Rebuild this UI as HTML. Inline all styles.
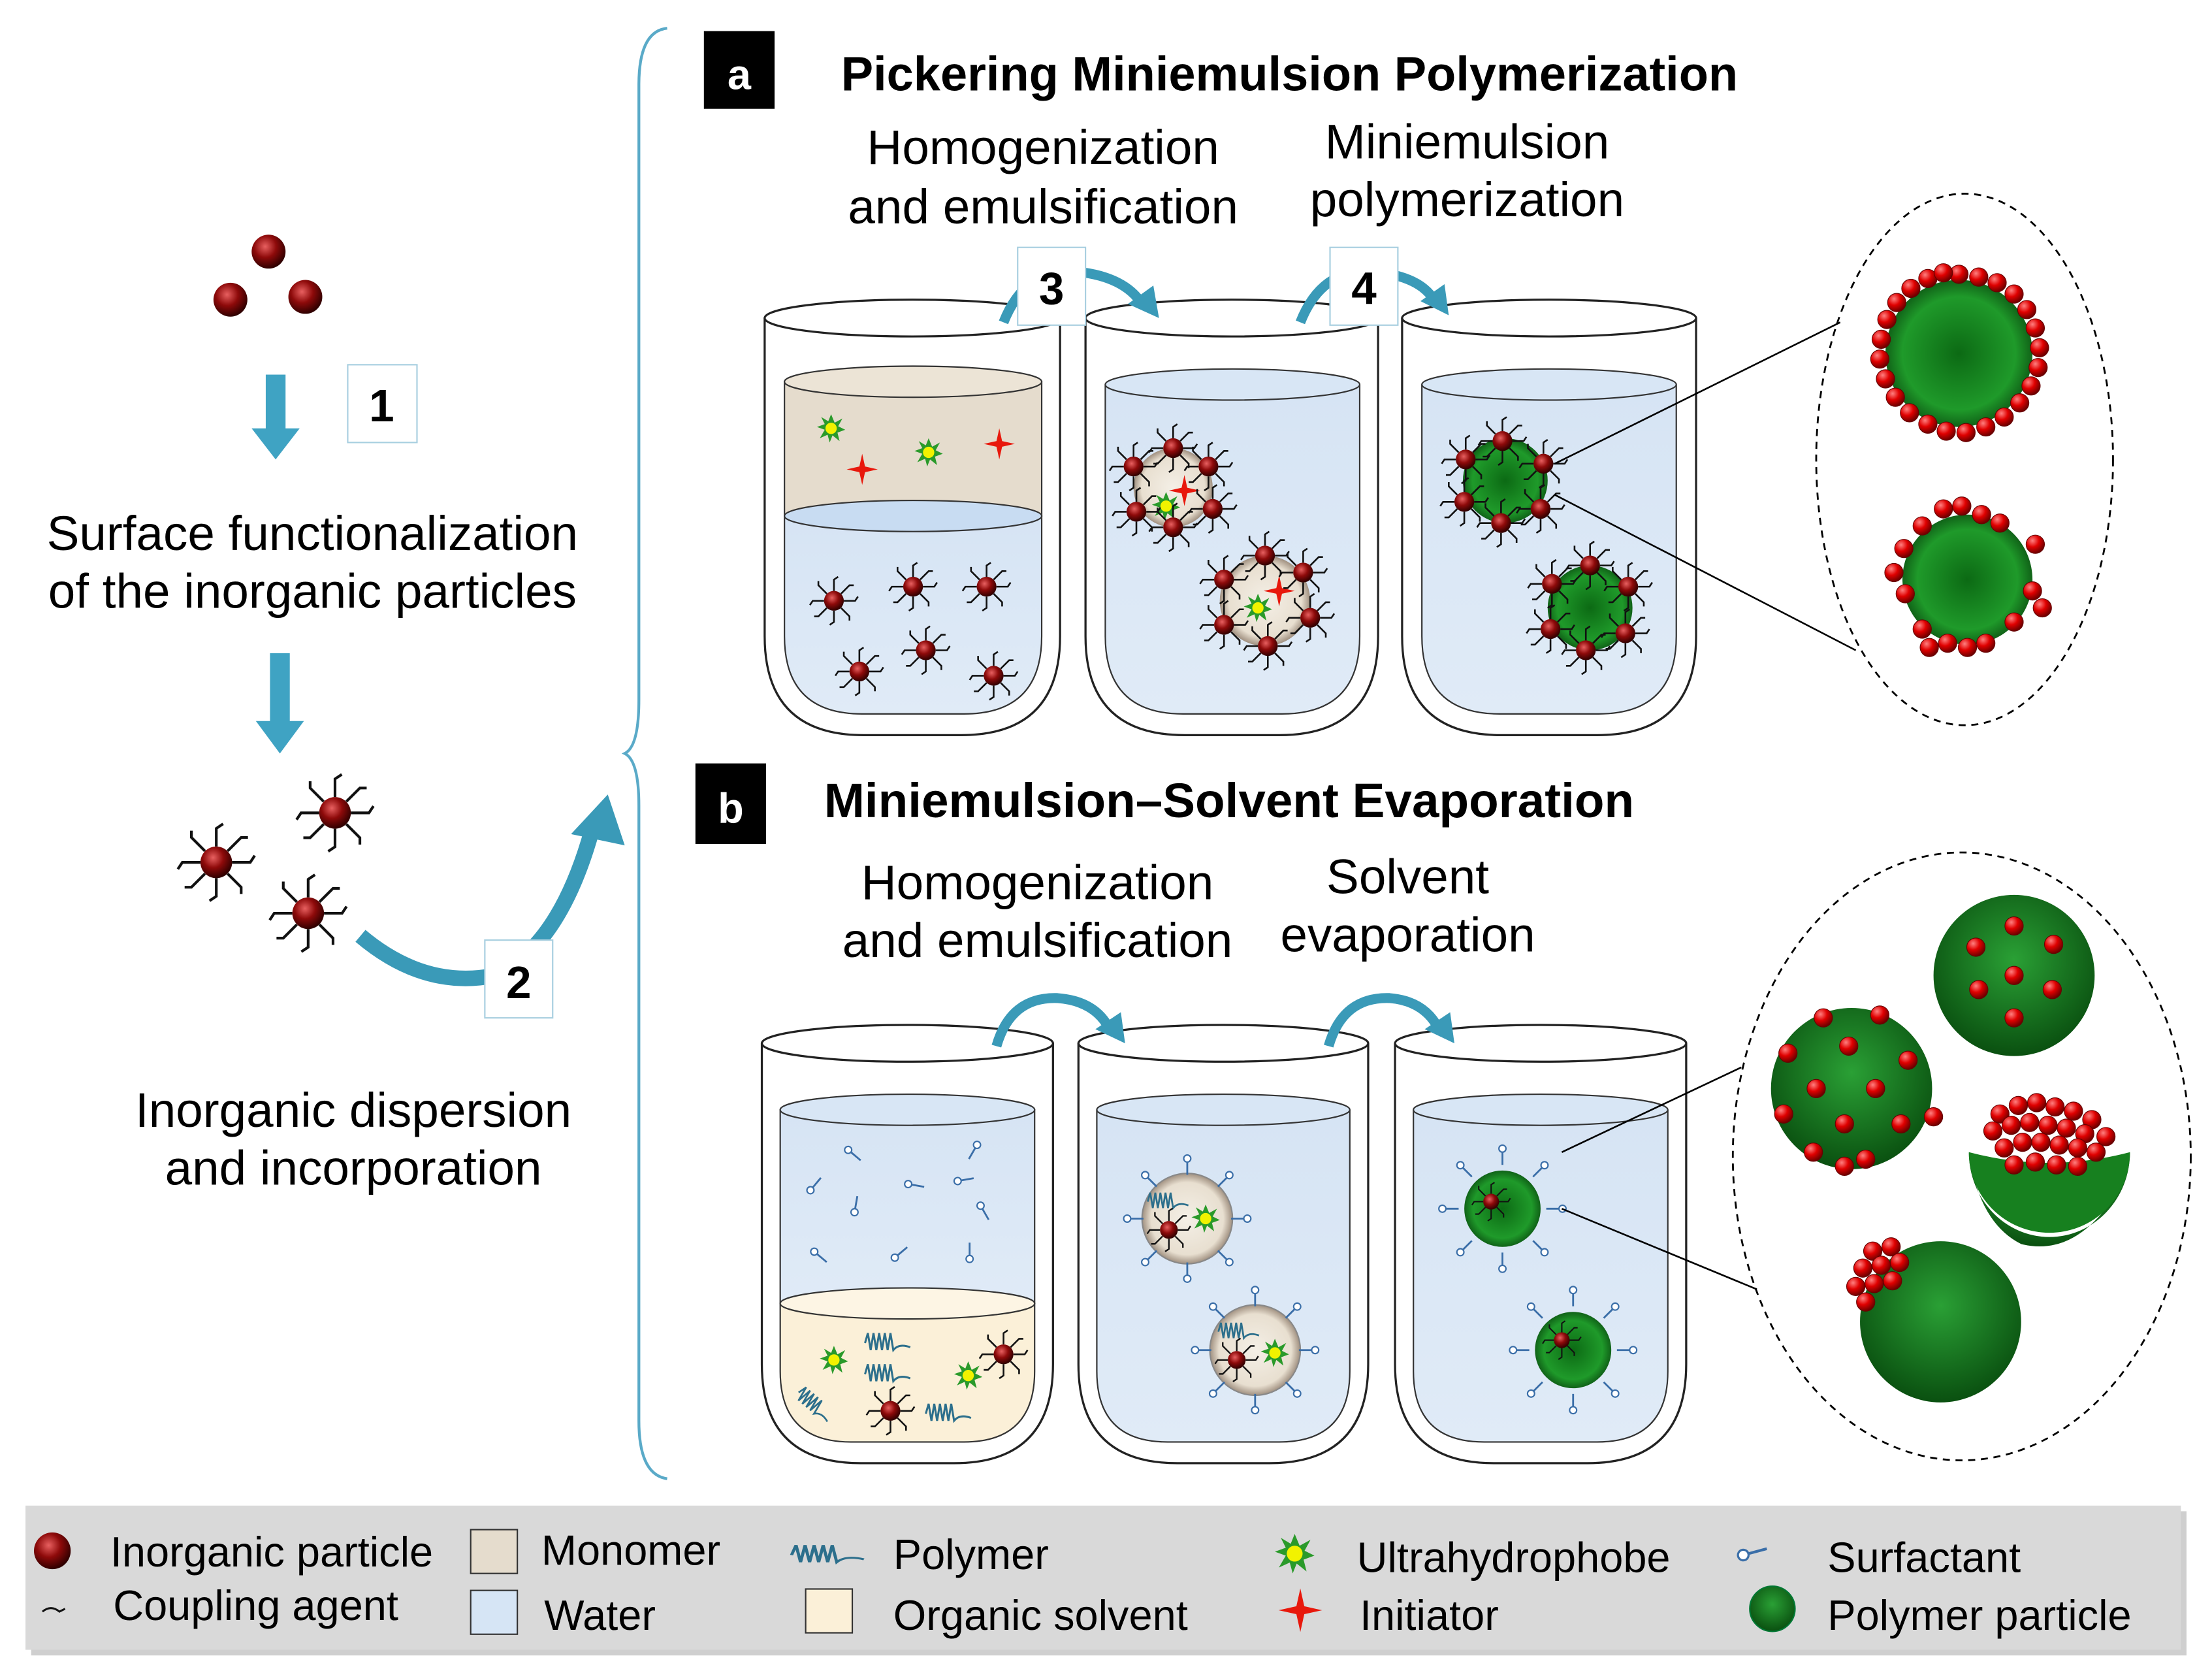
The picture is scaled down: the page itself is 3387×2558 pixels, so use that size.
<!DOCTYPE html>
<html><head><meta charset="utf-8"><style>
html,body{margin:0;padding:0;background:#fff}
svg{display:block}
text{font-family:"Liberation Sans",sans-serif;fill:#000}
</style></head><body>
<svg width="3387" height="2558" viewBox="0 0 1565 1182" xmlns="http://www.w3.org/2000/svg" xmlns:xlink="http://www.w3.org/1999/xlink">
<defs>
<radialGradient id="rb" cx="40%" cy="35%" r="65%"><stop offset="0" stop-color="#e86060"/><stop offset="0.5" stop-color="#8e0a0a"/><stop offset="1" stop-color="#300000"/></radialGradient>
<radialGradient id="rd" cx="35%" cy="30%" r="70%"><stop offset="0" stop-color="#ff8080"/><stop offset="0.5" stop-color="#e00000"/><stop offset="1" stop-color="#700000"/></radialGradient>
<radialGradient id="gr" cx="50%" cy="50%" r="55%"><stop offset="0" stop-color="#0c6a14"/><stop offset="0.7" stop-color="#1f9a2a"/><stop offset="1" stop-color="#0a4a10"/></radialGradient>
<radialGradient id="gr2" cx="50%" cy="40%" r="60%"><stop offset="0" stop-color="#2aa035"/><stop offset="1" stop-color="#0a5010"/></radialGradient>
<linearGradient id="wat" x1="0" y1="0" x2="0" y2="1"><stop offset="0" stop-color="#d6e4f4"/><stop offset="1" stop-color="#e0ebf7"/></linearGradient>
<radialGradient id="drop" cx="50%" cy="50%" r="50%"><stop offset="0" stop-color="#f4efe6"/><stop offset="0.8" stop-color="#e8dfd0"/><stop offset="1" stop-color="#a09080"/></radialGradient>
<g id="hp"><g stroke="#111" stroke-width="1.2" fill="none">
<path d="M0,-7 L0,-15 l3,-2"/><path d="M0,7 L0,15 l-3,2"/><path d="M-7,0 L-15,0 l-2,3"/><path d="M7,0 L15,0 l2,-3"/>
<path d="M5,-5 L11,-11 l3,0"/><path d="M-5,5 L-11,11 l-3,0"/><path d="M-5,-5 L-11,-11 l0,-3"/><path d="M5,5 L11,11 l0,3"/></g>
<circle r="7" fill="url(#rb)"/></g>
<g id="sf"><line x1="0" y1="0" x2="9" y2="0" stroke="#3a6ea8" stroke-width="1.3"/><circle cx="-2.5" cy="0" r="2.5" fill="#fff" stroke="#3a6ea8" stroke-width="1"/></g>
<g id="uh"><polygon points="0,-10 2.5,-4 8,-7 5,-1.5 10,1 4.5,3 6,9 1,5 -1,10 -2.5,4.5 -8,7 -4.5,1 -10,-1 -4.5,-3 -7,-8 -2,-5" fill="#2a9a2a"/><circle r="4" fill="#f2f200"/></g>
<g id="in"><path d="M0,-11 L2,-2 L11,0 L2,2 L0,11 L-2,2 L-11,0 L-2,-2 Z" fill="#e8180c"/></g>
<g id="pl"><path d="M0,0 l2,-7 l2,12 l2,-12 l2,12 l2,-12 l2,12 l2,-12 l2,12 l2,-12 l2,12 q4,-5 12,-2" stroke="#2c6f8c" stroke-width="1.4" fill="none"/></g>
<g id="rdot"><circle r="6.5" fill="url(#rd)" stroke="#600" stroke-width="0.5"/></g>
</defs>

<!-- LEFT column -->
<circle cx="190" cy="178" r="12" fill="url(#rb)"/>
<circle cx="163" cy="212" r="12" fill="url(#rb)"/>
<circle cx="216" cy="210" r="12" fill="url(#rb)"/>
<path d="M188,265 h14 v38 h10 l-17,22 l-17,-22 h10 Z" fill="#3fa3c3"/>
<rect x="246" y="258" width="49" height="55" fill="#fff" stroke="#a8cfe0" stroke-width="1"/>
<text x="270" y="298" font-size="32" font-weight="bold" text-anchor="middle">1</text>
<text x="221" y="389" font-size="34.5" text-anchor="middle">Surface functionalization</text>
<text x="221" y="430" font-size="34.5" text-anchor="middle">of the inorganic particles</text>
<path d="M191,462 h14 v48 h10 l-17,23 l-17,-23 h10 Z" fill="#3fa3c3"/>
<use href="#hp" transform="translate(237,575) scale(1.6)"/>
<use href="#hp" transform="translate(153,610) scale(1.6)"/>
<use href="#hp" transform="translate(218,646) scale(1.6)"/>
<path d="M255,662 Q300,700 350,690 Q395,670 418,590" stroke="#3a9ab8" stroke-width="11" fill="none"/>
<polygon points="404,590 430,562 442,598" fill="#3a9ab8"/>
<rect x="343" y="665" width="48" height="55" fill="#fff" stroke="#a8cfe0" stroke-width="1"/>
<text x="367" y="706" font-size="32" font-weight="bold" text-anchor="middle">2</text>
<text x="250" y="797" font-size="34.5" text-anchor="middle">Inorganic dispersion</text>
<text x="250" y="838" font-size="34.5" text-anchor="middle">and incorporation</text>

<!-- brace -->
<path d="M472,20 Q452,22 452,60 L452,495 Q452,528 442,533 Q452,538 452,570 L452,1005 Q452,1043 472,1046" stroke="#5aaac8" stroke-width="2" fill="none"/>

<!-- Panel a -->
<rect x="498" y="22" width="50" height="55" fill="#000"/>
<text x="523" y="63" font-size="30" font-weight="bold" text-anchor="middle" style="fill:#fff">a</text>
<text x="595" y="64" font-size="34.2" font-weight="bold">Pickering Miniemulsion Polymerization</text>
<text x="738" y="116" font-size="34.5" text-anchor="middle">Homogenization</text>
<text x="738" y="158" font-size="34.5" text-anchor="middle">and emulsification</text>
<text x="1038" y="112" font-size="34.5" text-anchor="middle">Miniemulsion</text>
<text x="1038" y="153" font-size="34.5" text-anchor="middle">polymerization</text>

<!-- beakers a -->
<g stroke="#222" stroke-width="1.5">
<path d="M541,225 L541,450 Q541,520 611,520 L680,520 Q750,520 750,450 L750,225" fill="#fff"/>
<ellipse cx="645.5" cy="225" rx="104.5" ry="13" fill="#fff"/>
<path d="M768,225 L768,450 Q768,520 838,520 L905,520 Q975,520 975,450 L975,225" fill="#fff"/>
<ellipse cx="871.5" cy="225" rx="103.5" ry="13" fill="#fff"/>
<path d="M992,225 L992,450 Q992,520 1062,520 L1130,520 Q1200,520 1200,450 L1200,225" fill="#fff"/>
<ellipse cx="1096" cy="225" rx="104" ry="13" fill="#fff"/>
</g>
<!-- liquids a -->
<g stroke="#333" stroke-width="1">
<path d="M555,365 L555,450 Q555,505 610,505 L682,505 Q737,505 737,450 L737,365 Z" fill="url(#wat)"/>
<path d="M555,270 L555,365 L737,365 L737,270 Z" fill="#e5dccd"/>
<ellipse cx="646" cy="270" rx="91" ry="11" fill="#ece4d6"/>
<ellipse cx="646" cy="365" rx="91" ry="11" fill="#c8dcf2"/>
<path d="M782,272 L782,450 Q782,505 837,505 L907,505 Q962,505 962,450 L962,272" fill="url(#wat)"/>
<ellipse cx="872" cy="272" rx="90" ry="11" fill="#d8e6f5"/>
<path d="M1006,272 L1006,450 Q1006,505 1061,505 L1131,505 Q1186,505 1186,450 L1186,272" fill="url(#wat)"/>
<ellipse cx="1096" cy="272" rx="90" ry="11" fill="#d8e6f5"/>
</g>
<use href="#uh" transform="translate(588,303)"/><use href="#uh" transform="translate(657,320)"/>
<use href="#in" transform="translate(610,332)"/><use href="#in" transform="translate(707,314)"/>
<use href="#hp" transform="translate(590,425)"/><use href="#hp" transform="translate(646,415)"/><use href="#hp" transform="translate(698,415)"/>
<use href="#hp" transform="translate(608,475)"/><use href="#hp" transform="translate(655,460)"/><use href="#hp" transform="translate(703,478)"/>
<!-- droplets beaker 2 -->
<circle cx="830" cy="345" r="28" fill="url(#drop)"/>
<circle cx="895" cy="425" r="32" fill="url(#drop)"/>
<use href="#uh" transform="translate(825,358)"/><use href="#in" transform="translate(838,347)"/>
<use href="#uh" transform="translate(890,430)"/><use href="#in" transform="translate(905,418)"/>
<g>
<use href="#hp" transform="translate(830,317)"/><use href="#hp" transform="translate(855,330)"/><use href="#hp" transform="translate(858,360)"/><use href="#hp" transform="translate(830,373)"/><use href="#hp" transform="translate(804,362)"/><use href="#hp" transform="translate(802,330)"/>
<use href="#hp" transform="translate(895,393)"/><use href="#hp" transform="translate(922,405)"/><use href="#hp" transform="translate(927,437)"/><use href="#hp" transform="translate(897,457)"/><use href="#hp" transform="translate(866,442)"/><use href="#hp" transform="translate(866,410)"/>
</g>
<!-- green beaker 3 -->
<circle cx="1065" cy="340" r="30" fill="url(#gr)"/>
<circle cx="1125" cy="430" r="30" fill="url(#gr)"/>
<use href="#hp" transform="translate(1063,312)"/><use href="#hp" transform="translate(1092,328)"/><use href="#hp" transform="translate(1090,360)"/><use href="#hp" transform="translate(1062,370)"/><use href="#hp" transform="translate(1036,355)"/><use href="#hp" transform="translate(1037,325)"/>
<use href="#hp" transform="translate(1125,400)"/><use href="#hp" transform="translate(1152,415)"/><use href="#hp" transform="translate(1150,448)"/><use href="#hp" transform="translate(1122,460)"/><use href="#hp" transform="translate(1097,445)"/><use href="#hp" transform="translate(1098,413)"/>

<!-- arrows a -->
<g fill="none" stroke="#3a9ab8" stroke-width="7">
<path d="M710,228 Q725,190 760,192 Q795,195 808,215"/>
<path d="M920,228 Q935,190 970,192 Q1005,195 1015,213"/>
</g>
<polygon points="798,215 820,225 816,202" fill="#3a9ab8"/>
<polygon points="1005,213 1025,223 1022,201" fill="#3a9ab8"/>
<rect x="720" y="175" width="48" height="55" fill="#fff" stroke="#a8cfe0" stroke-width="1"/>
<text x="744" y="215" font-size="32" font-weight="bold" text-anchor="middle">3</text>
<rect x="941" y="175" width="48" height="55" fill="#fff" stroke="#a8cfe0" stroke-width="1"/>
<text x="965" y="215" font-size="32" font-weight="bold" text-anchor="middle">4</text>

<!-- zoom a -->
<line x1="1100" y1="328" x2="1302" y2="228" stroke="#000" stroke-width="1.2"/>
<line x1="1100" y1="350" x2="1313" y2="460" stroke="#000" stroke-width="1.2"/>
<ellipse cx="1390" cy="325" rx="105" ry="188" fill="none" stroke="#000" stroke-width="1.3" stroke-dasharray="5,4"/>
<circle cx="1386" cy="250" r="52" fill="url(#gr)"/>
<g>
<use href="#rdot" x="1386" y="194"/><use href="#rdot" x="1400" y="196"/><use href="#rdot" x="1413" y="200"/><use href="#rdot" x="1425" y="208"/><use href="#rdot" x="1434" y="219"/><use href="#rdot" x="1440" y="232"/><use href="#rdot" x="1443" y="246"/><use href="#rdot" x="1442" y="260"/><use href="#rdot" x="1437" y="273"/><use href="#rdot" x="1429" y="285"/><use href="#rdot" x="1418" y="295"/><use href="#rdot" x="1405" y="302"/><use href="#rdot" x="1391" y="306"/><use href="#rdot" x="1377" y="305"/><use href="#rdot" x="1364" y="300"/><use href="#rdot" x="1351" y="292"/><use href="#rdot" x="1341" y="281"/><use href="#rdot" x="1334" y="268"/><use href="#rdot" x="1330" y="254"/><use href="#rdot" x="1331" y="240"/><use href="#rdot" x="1335" y="226"/><use href="#rdot" x="1342" y="214"/><use href="#rdot" x="1352" y="204"/><use href="#rdot" x="1364" y="197"/><use href="#rdot" x="1375" y="193"/>
</g>
<circle cx="1392" cy="410" r="46" fill="url(#gr)"/>
<use href="#rdot" x="1375" y="360"/><use href="#rdot" x="1388" y="358"/><use href="#rdot" x="1402" y="364"/><use href="#rdot" x="1360" y="372"/><use href="#rdot" x="1347" y="388"/><use href="#rdot" x="1340" y="405"/><use href="#rdot" x="1348" y="420"/><use href="#rdot" x="1440" y="385"/><use href="#rdot" x="1438" y="418"/><use href="#rdot" x="1445" y="430"/><use href="#rdot" x="1425" y="440"/><use href="#rdot" x="1405" y="455"/><use href="#rdot" x="1392" y="458"/><use href="#rdot" x="1378" y="455"/><use href="#rdot" x="1365" y="458"/><use href="#rdot" x="1360" y="445"/><use href="#rdot" x="1415" y="370"/>

<!-- Panel b -->
<rect x="492" y="540" width="50" height="57" fill="#000"/>
<text x="517" y="582" font-size="30" font-weight="bold" text-anchor="middle" style="fill:#fff">b</text>
<text x="583" y="578" font-size="34.5" font-weight="bold">Miniemulsion–Solvent Evaporation</text>
<text x="734" y="636" font-size="34.5" text-anchor="middle">Homogenization</text>
<text x="734" y="677" font-size="34.5" text-anchor="middle">and emulsification</text>
<text x="996" y="632" font-size="34.5" text-anchor="middle">Solvent</text>
<text x="996" y="673" font-size="34.5" text-anchor="middle">evaporation</text>

<g stroke="#222" stroke-width="1.5">
<path d="M539,738 L539,965 Q539,1035 609,1035 L675,1035 Q745,1035 745,965 L745,738" fill="#fff"/>
<ellipse cx="642" cy="738" rx="103" ry="13" fill="#fff"/>
<path d="M763,738 L763,965 Q763,1035 833,1035 L898,1035 Q968,1035 968,965 L968,738" fill="#fff"/>
<ellipse cx="865.5" cy="738" rx="102.5" ry="13" fill="#fff"/>
<path d="M987,738 L987,965 Q987,1035 1057,1035 L1123,1035 Q1193,1035 1193,965 L1193,738" fill="#fff"/>
<ellipse cx="1090" cy="738" rx="103" ry="13" fill="#fff"/>
</g>
<g stroke="#333" stroke-width="1">
<path d="M552,785 L552,922 L732,922 L732,785 Z" fill="url(#wat)"/>
<path d="M552,922 L552,970 Q552,1020 602,1020 L682,1020 Q732,1020 732,970 L732,922 Z" fill="#fbf0d8"/>
<ellipse cx="642" cy="785" rx="90" ry="11" fill="#d8e6f5"/>
<ellipse cx="642" cy="922" rx="90" ry="11" fill="#fdf5e4"/>
<path d="M776,785 L776,970 Q776,1020 826,1020 L905,1020 Q955,1020 955,970 L955,785" fill="url(#wat)"/>
<ellipse cx="865.5" cy="785" rx="89.5" ry="11" fill="#d8e6f5"/>
<path d="M1000,785 L1000,970 Q1000,1020 1050,1020 L1130,1020 Q1180,1020 1180,970 L1180,785" fill="url(#wat)"/>
<ellipse cx="1090" cy="785" rx="90" ry="11" fill="#d8e6f5"/>
</g>
<use href="#sf" transform="translate(575,840) rotate(-50)"/><use href="#sf" transform="translate(602,815) rotate(40)"/><use href="#sf" transform="translate(645,838) rotate(10)"/><use href="#sf" transform="translate(690,812) rotate(120)"/><use href="#sf" transform="translate(680,835) rotate(-10)"/>
<use href="#sf" transform="translate(605,855) rotate(-80)"/><use href="#sf" transform="translate(578,887) rotate(40)"/><use href="#sf" transform="translate(635,888) rotate(-40)"/><use href="#sf" transform="translate(686,888) rotate(-90)"/><use href="#sf" transform="translate(695,855) rotate(60)"/>
<use href="#pl" transform="translate(612,950)"/><use href="#pl" transform="translate(612,972)"/><use href="#pl" transform="translate(655,1000)"/><use href="#pl" transform="translate(565,985) rotate(40) scale(0.9)"/>
<use href="#uh" transform="translate(590,962)"/><use href="#uh" transform="translate(685,973)"/>
<use href="#hp" transform="translate(630,998)"/><use href="#hp" transform="translate(710,958)"/>
<circle cx="840" cy="862" r="32" fill="url(#drop)" stroke="#888" stroke-width="1"/>
<circle cx="888" cy="955" r="32" fill="url(#drop)" stroke="#888" stroke-width="1"/>
<use href="#pl" transform="translate(812,850) scale(0.9)"/><use href="#uh" transform="translate(853,862)"/><use href="#hp" transform="translate(827,870) scale(0.9)"/>
<use href="#pl" transform="translate(862,942) scale(0.9)"/><use href="#uh" transform="translate(902,957)"/><use href="#hp" transform="translate(875,962) scale(0.9)"/>
<g id="sfring1">
<use href="#sf" transform="translate(840,822) rotate(90)"/><use href="#sf" transform="translate(868,833) rotate(135)"/><use href="#sf" transform="translate(880,862) rotate(180)"/><use href="#sf" transform="translate(868,891) rotate(225)"/><use href="#sf" transform="translate(840,902) rotate(270)"/><use href="#sf" transform="translate(812,891) rotate(315)"/><use href="#sf" transform="translate(800,862) rotate(0)"/><use href="#sf" transform="translate(812,833) rotate(45)"/>
</g>
<use href="#sfring1" transform="translate(48,93)"/>
<circle cx="1063" cy="855" r="27" fill="url(#gr)"/>
<circle cx="1113" cy="955" r="27" fill="url(#gr)"/>
<use href="#hp" transform="translate(1055,850) scale(0.8)"/><use href="#hp" transform="translate(1105,948) scale(0.8)"/>
<use href="#sfring1" transform="translate(223,-7)"/>
<use href="#sfring1" transform="translate(273,93)"/>

<g fill="none" stroke="#3a9ab8" stroke-width="7">
<path d="M705,740 Q715,705 748,706 Q775,708 785,728"/>
<path d="M940,740 Q950,705 983,706 Q1008,708 1018,728"/>
</g>
<polygon points="775,728 796,738 793,716" fill="#3a9ab8"/>
<polygon points="1008,728 1029,738 1026,716" fill="#3a9ab8"/>

<!-- zoom b -->
<line x1="1105" y1="815" x2="1232" y2="755" stroke="#000" stroke-width="1.2"/>
<line x1="1105" y1="855" x2="1243" y2="912" stroke="#000" stroke-width="1.2"/>
<ellipse cx="1388" cy="818" rx="162" ry="215" fill="none" stroke="#000" stroke-width="1.3" stroke-dasharray="5,4"/>
<circle cx="1425" cy="690" r="57" fill="url(#gr2)"/>
<use href="#rdot" x="1398" y="670"/><use href="#rdot" x="1425" y="655"/><use href="#rdot" x="1453" y="668"/><use href="#rdot" x="1425" y="690"/><use href="#rdot" x="1400" y="700"/><use href="#rdot" x="1452" y="700"/><use href="#rdot" x="1425" y="720"/>
<circle cx="1310" cy="770" r="57" fill="url(#gr2)"/>
<use href="#rdot" x="1290" y="720"/><use href="#rdot" x="1330" y="718"/><use href="#rdot" x="1265" y="745"/><use href="#rdot" x="1308" y="740"/><use href="#rdot" x="1350" y="750"/><use href="#rdot" x="1285" y="770"/><use href="#rdot" x="1327" y="770"/><use href="#rdot" x="1262" y="788"/><use href="#rdot" x="1305" y="795"/><use href="#rdot" x="1345" y="795"/><use href="#rdot" x="1368" y="790"/><use href="#rdot" x="1283" y="815"/><use href="#rdot" x="1320" y="820"/><use href="#rdot" x="1305" y="825"/>
<path d="M1393,815 A57,60 0 0 0 1507,815 L1500,840 Q1470,890 1430,880 Q1400,865 1393,815 Z" fill="url(#gr2)"/>
<path d="M1393,815 A57,57 0 0 0 1507,815 Q1450,830 1393,815 Z" fill="#17801f"/>
<g>
<use href="#rdot" x="1415" y="788"/><use href="#rdot" x="1428" y="782"/><use href="#rdot" x="1441" y="780"/><use href="#rdot" x="1454" y="783"/><use href="#rdot" x="1467" y="786"/><use href="#rdot" x="1480" y="792"/>
<use href="#rdot" x="1410" y="800"/><use href="#rdot" x="1423" y="796"/><use href="#rdot" x="1436" y="794"/><use href="#rdot" x="1449" y="796"/><use href="#rdot" x="1462" y="798"/><use href="#rdot" x="1475" y="802"/><use href="#rdot" x="1490" y="804"/>
<use href="#rdot" x="1418" y="812"/><use href="#rdot" x="1431" y="808"/><use href="#rdot" x="1444" y="808"/><use href="#rdot" x="1457" y="810"/><use href="#rdot" x="1470" y="812"/><use href="#rdot" x="1483" y="815"/>
<use href="#rdot" x="1425" y="824"/><use href="#rdot" x="1440" y="822"/><use href="#rdot" x="1455" y="824"/><use href="#rdot" x="1470" y="825"/>
</g>
<circle cx="1373" cy="935" r="57" fill="url(#gr2)"/>
<use href="#rdot" x="1325" y="885"/><use href="#rdot" x="1338" y="882"/><use href="#rdot" x="1318" y="897"/><use href="#rdot" x="1331" y="895"/><use href="#rdot" x="1344" y="893"/><use href="#rdot" x="1313" y="910"/><use href="#rdot" x="1326" y="908"/><use href="#rdot" x="1339" y="906"/><use href="#rdot" x="1320" y="921"/>

<!-- legend -->
<rect x="22" y="1069" width="1525" height="102" fill="#a0a0a0" opacity="0.5"/>
<rect x="18" y="1065" width="1525" height="102" fill="#d9d9d9"/>
<circle cx="37" cy="1097" r="13" fill="url(#rb)"/>
<path d="M30,1140 q6,-5 12,0 l4,-2" stroke="#111" stroke-width="1.4" fill="none"/>
<text x="78" y="1108" font-size="30">Inorganic particle</text>
<text x="80" y="1146" font-size="30">Coupling agent</text>
<rect x="333" y="1082" width="33" height="31" fill="#e5dccd" stroke="#333" stroke-width="1"/>
<rect x="333" y="1125" width="33" height="31" fill="#d6e5f5" stroke="#333" stroke-width="1"/>
<text x="383" y="1107" font-size="30">Monomer</text>
<text x="385" y="1153" font-size="30">Water</text>
<use href="#pl" transform="translate(560,1100) scale(1.6,1)"/>
<rect x="570" y="1124" width="33" height="31" fill="#fbf0d8" stroke="#333" stroke-width="1"/>
<text x="632" y="1110" font-size="30">Polymer</text>
<text x="632" y="1153" font-size="30">Organic solvent</text>
<use href="#uh" transform="translate(916,1099) scale(1.4)"/>
<use href="#in" transform="translate(920,1139) scale(1.4)"/>
<text x="960" y="1112" font-size="30">Ultrahydrophobe</text>
<text x="962" y="1153" font-size="30">Initiator</text>
<use href="#sf" transform="translate(1237,1099) rotate(-15) scale(1.5)"/>
<circle cx="1254" cy="1138" r="16" fill="url(#gr2)" stroke="#073" stroke-width="1"/>
<text x="1293" y="1112" font-size="30">Surfactant</text>
<text x="1293" y="1153" font-size="30">Polymer particle</text>
</svg>
</body></html>
